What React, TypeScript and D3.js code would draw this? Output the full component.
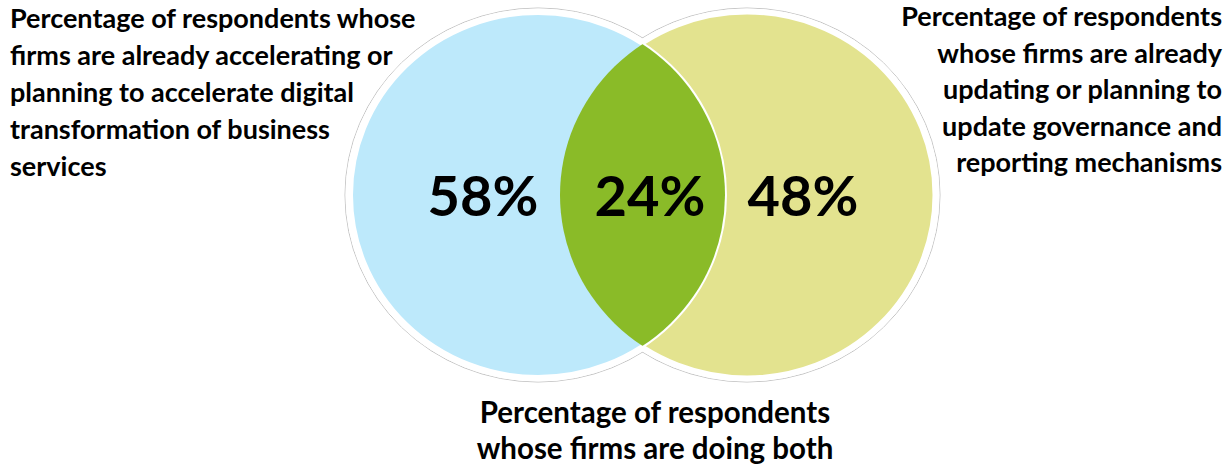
import React from "react";
import * as d3 from "d3";

// ---- data ----
const setNames = ["Accelerating digital transformation", "Updating governance and reporting"];
const setValues = [58, 48];
const overlapValue = 24;
const leftLabel = [
  "Percentage of respondents whose",
  "firms are already accelerating or",
  "planning to accelerate digital",
  "transformation of business",
  "services",
];
const rightLabel = [
  "Percentage of respondents",
  "whose firms are already",
  "updating or planning to",
  "update governance and",
  "reporting mechanisms",
];
const bottomLabel = ["Percentage of respondents", "whose firms are doing both"];
const setColors = ["#BDE9FB", "#E3E38F"];
const overlapColor = "#8ABB28";

const W = 1232;
const H = 468;
const FONT = "Lato, 'Open Sans', sans-serif";

export default function App() {
  // layout scales: circle centres at -1 and +1 in a unit space
  const x = d3.scaleLinear().domain([-1, 1]).range([538, 747]);
  const y = d3.scaleLinear().domain([-1, 1]).range([13, 377]);
  const rx = (x(1) - x(-1)) * 187 / 209;
  const ry = (y(1) - y(-1)) / 2;
  const cy = y(0);
  const centres = [x(-1), x(1)];
  const fmt = (v: number) => `${v}%`;

  return (
    <svg width={W} height={H} style={{ position: "absolute", left: 0, top: 0, background: "#fff" }}>
      <defs>
        <clipPath id="clipLeft">
          <ellipse cx={centres[0]} cy={cy} rx={rx} ry={ry} />
        </clipPath>
      </defs>
      {/* outer thin outlines */}
      {centres.map((c, i) => (
        <ellipse key={"o" + i} cx={c} cy={cy} rx={rx + 6} ry={ry + 5} fill="#fff" stroke="#c4c4c4" strokeWidth={1} />
      ))}
      {centres.map((c, i) => (
        <ellipse key={"o2" + i} cx={c} cy={cy} rx={rx + 5.5} ry={ry + 4.5} fill="#fff" />
      ))}
      {/* right set */}
      <ellipse cx={centres[1]} cy={cy} rx={rx} ry={ry} fill={setColors[1]} stroke="#fff" strokeWidth={3} />
      {/* left set */}
      <ellipse cx={centres[0]} cy={cy} rx={rx} ry={ry} fill={setColors[0]} stroke="#fff" strokeWidth={4} />
      {/* overlap */}
      <ellipse cx={centres[1]} cy={cy} rx={rx} ry={ry} fill={overlapColor} clipPath="url(#clipLeft)" />

      {/* big numbers */}
      <g fontFamily={FONT} fontWeight={700} fontSize={56} textAnchor="middle" fill="#000">
        <text x={483} y={216}>{fmt(setValues[0])}</text>
        <text x={650} y={216}>{fmt(overlapValue)}</text>
        <text x={803} y={216}>{fmt(setValues[1])}</text>
      </g>

      {/* labels */}
      <g fontFamily={FONT} fontWeight={700} fontSize={27} fill="#000">
        {leftLabel.map((t, i) => (
          <text key={"l" + i} x={10} y={28 + i * 37}>{t}</text>
        ))}
        {rightLabel.map((t, i) => (
          <text key={"r" + i} x={1222} y={26 + i * 36.5} textAnchor="end">{t}</text>
        ))}
      </g>
      <g fontFamily={FONT} fontWeight={700} fontSize={29.5} fill="#000" textAnchor="middle">
        {bottomLabel.map((t, i) => (
          <text key={"b" + i} x={655} y={423 + i * 36}>{t}</text>
        ))}
      </g>
    </svg>
  );
}
